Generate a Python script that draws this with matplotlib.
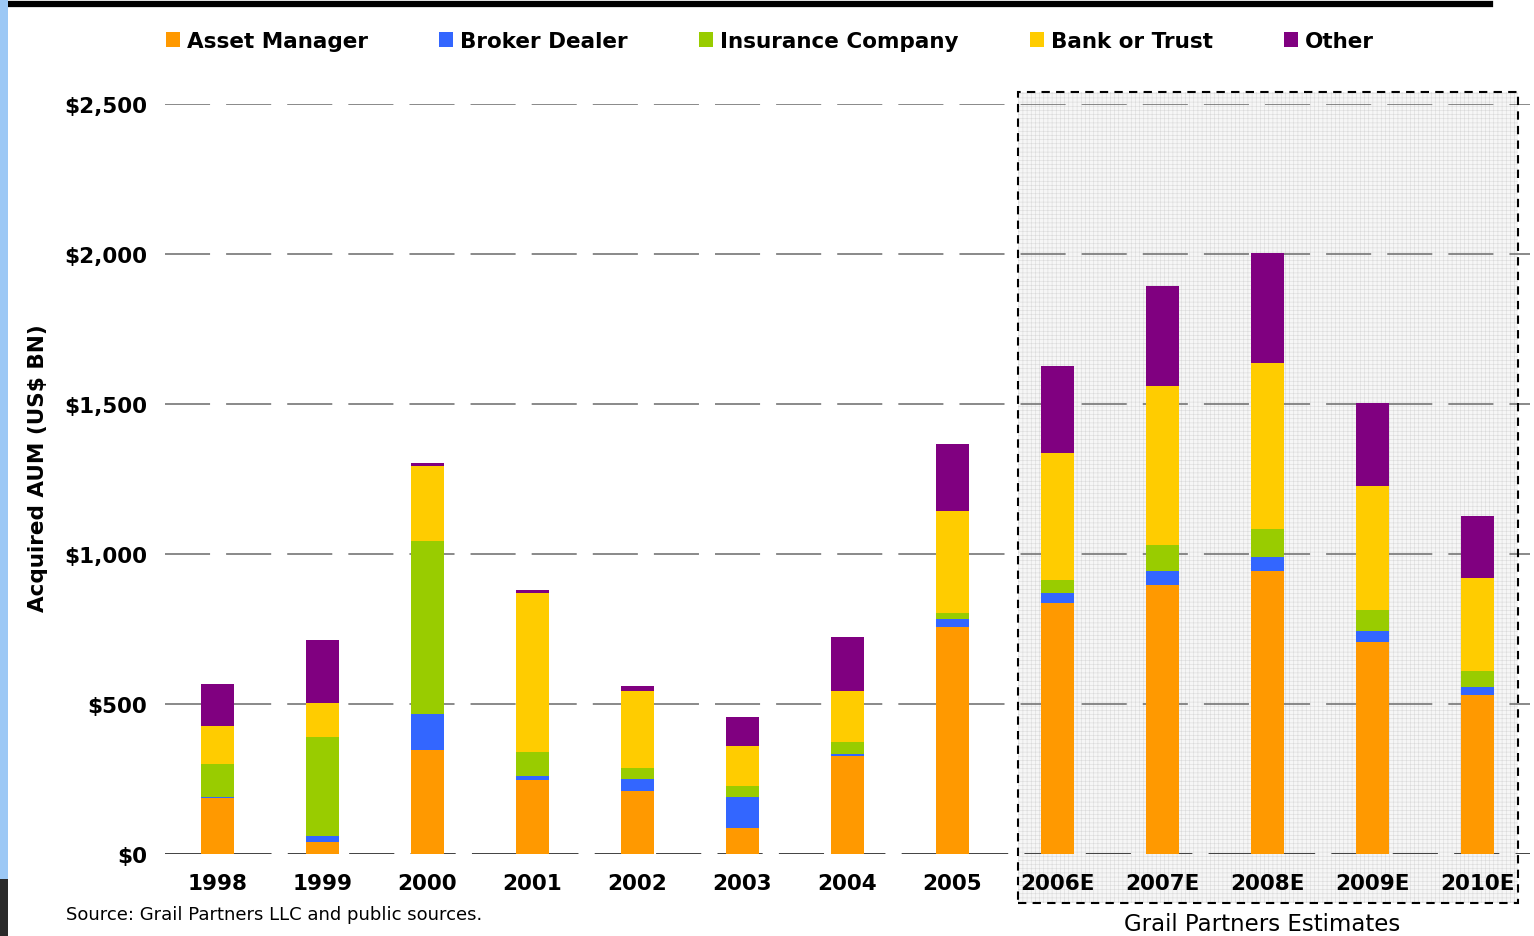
import matplotlib
matplotlib.use('Agg')
import matplotlib.pyplot as plt
import numpy as np
from matplotlib.patches import Patch, Rectangle
from matplotlib.lines import Line2D

years = ['1998', '1999', '2000', '2001', '2002', '2003', '2004', '2005',
         '2006E', '2007E', '2008E', '2009E', '2010E']

# acquired AUM by buyer type, US$ bn
asset_manager = [187, 40, 347, 247, 210, 87, 327, 757, 837, 897, 943, 707, 530]
broker_dealer = [3, 20, 120, 13, 40, 103, 7, 27, 33, 47, 47, 37, 27]
insurance_co = [110, 330, 577, 80, 37, 37, 40, 20, 43, 87, 93, 70, 53]
bank_trust = [127, 113, 250, 530, 257, 133, 170, 340, 423, 530, 553, 413, 310]
other = [140, 210, 10, 10, 17, 97, 180, 223, 290, 333, 367, 277, 207]

series = ['Asset Manager', 'Broker Dealer', 'Insurance Company', 'Bank or Trust', 'Other']
colors = ['#FF9900', '#3366FF', '#99CC00', '#FFCC00', '#800080']
yticks = [0, 500, 1000, 1500, 2000, 2500]

W, H = 1534, 937
plt.rcParams['hatch.linewidth'] = 0.4
fig = plt.figure(figsize=(W / 100, H / 100), dpi=100)
ax = fig.add_axes([165 / W, (H - 855) / H, (1530 - 165) / W, 750 / H])
ax.patch.set_alpha(0)

# shaded estimates box (behind the axes)
fig.patches.append(Rectangle((1018 / W, (H - 904) / H), 500 / W, 811 / H,
                             transform=fig.transFigure, facecolor='#f6f6f6',
                             edgecolor='#dadada', linewidth=0, hatch='++++',
                             zorder=-2))

x = np.arange(len(years))
data = [asset_manager, broker_dealer, insurance_co, bank_trust, other]
bottom = np.zeros(len(years))
for vals, col, name in zip(data, colors, series):
    ax.bar(x, vals, width=0.305, bottom=bottom, color=col, label=name, zorder=3)
    bottom += np.array(vals)

ax.set_xlim(-0.5, len(years) - 0.5)
ax.set_ylim(0, 2500)
for y in yticks[1:]:
    ax.axhline(y, color='#6a6a6a', lw=1.1, dashes=(29.5, 10.5), zorder=1)
ax.axhline(0, color='#333333', lw=1.3, dashes=(25, 9), zorder=1)

for s in ax.spines.values():
    s.set_visible(False)
ax.set_yticks(yticks)
ax.set_yticklabels(['${:,}'.format(v) for v in yticks], fontsize=15.5, fontweight='bold')
ax.set_xticks(x)
ax.set_xticklabels(years, fontsize=15.5, fontweight='bold')
ax.tick_params(axis='both', length=0)
ax.tick_params(axis='y', pad=13)
ax.tick_params(axis='x', pad=14)

fig.text(38 / W, 1 - 468 / H, 'Acquired AUM (US$ BN)', rotation=90, fontsize=15.5,
         fontweight='bold', ha='center', va='center')

handles = [Patch(facecolor=c, edgecolor='none') for c in colors]
fig.legend(handles, series, loc='center', bbox_to_anchor=(770 / W, 1 - 42 / H), ncol=5,
           frameon=False, prop={'size': 15.5, 'weight': 'bold'},
           handlelength=0.65, handleheight=0.65, handletextpad=0.33,
           columnspacing=3.3, borderpad=0)

# dashed border of estimates box
fig.patches.append(Rectangle((1018 / W, (H - 904) / H), 500 / W, 811 / H,
                             transform=fig.transFigure, facecolor='none',
                             edgecolor='black', linewidth=1.5, linestyle=(0, (4, 3)),
                             zorder=5))
fig.text(1262 / W, 1 - 925 / H, 'Grail Partners Estimates', fontsize=16.5,
         ha='center', va='center')
fig.text(66 / W, 1 - 915 / H, 'Source: Grail Partners LLC and public sources.',
         fontsize=13, ha='left', va='center')

# frame decorations at top / left edge
fig.add_artist(Line2D([5 / W, 1490 / W], [1 - 5 / H, 1 - 5 / H], color='black', lw=4.5))
fig.patches.append(Rectangle((0, 57 / H), 8 / W, 1 - 57 / H, transform=fig.transFigure,
                             facecolor='#9cc8f5', edgecolor='none', zorder=4))
fig.add_artist(Line2D([5 / W, 5 / W], [57 / H, 1], color='black', lw=1.2))
fig.patches.append(Rectangle((0, 0), 8 / W, 57 / H, transform=fig.transFigure,
                             facecolor='#2a2a2a', edgecolor='none', zorder=4))

fig.savefig('out.png', dpi=100)
